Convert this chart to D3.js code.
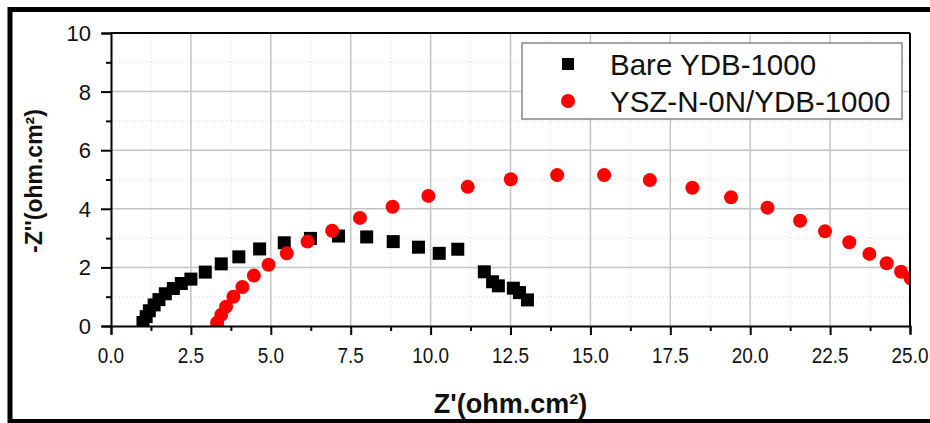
<!DOCTYPE html>
<html>
<head>
<meta charset="utf-8">
<script src="https://cdn.jsdelivr.net/npm/d3@7"></script>
<style>
  body { margin: 0; background: #fff; }
  text { font-family: "Liberation Sans", Arial, sans-serif; }
</style>
</head>
<body>
<div id="my_dataviz"></div>
<script>
// Bare YDB-1000 (black squares)
var bareX = [1.0, 1.1, 1.2, 1.35, 1.5, 1.7, 1.95, 2.2, 2.5, 2.95, 3.45, 4.0, 4.65, 5.42, 6.24, 7.12, 8.0, 8.83, 9.62, 10.27, 10.85, 11.68, 11.94, 12.12, 12.59, 12.78, 13.03];
var bareY = [0.12, 0.32, 0.52, 0.72, 0.9, 1.1, 1.28, 1.45, 1.6, 1.84, 2.12, 2.36, 2.63, 2.84, 2.99, 3.07, 3.04, 2.88, 2.69, 2.48, 2.62, 1.85, 1.51, 1.37, 1.29, 1.14, 0.89];

// YSZ-N-0N/YDB-1000 (red circles)
var yszX = [3.32, 3.45, 3.6, 3.83, 4.11, 4.47, 4.93, 5.5, 6.15, 6.92, 7.79, 8.81, 9.93, 11.16, 12.51, 13.96, 15.43, 16.86, 18.19, 19.4, 20.54, 21.56, 22.34, 23.1, 23.73, 24.27, 24.72, 25.02];
var yszY = [0.11, 0.38, 0.66, 1.0, 1.33, 1.72, 2.09, 2.48, 2.88, 3.25, 3.69, 4.07, 4.44, 4.75, 5.01, 5.15, 5.15, 4.98, 4.72, 4.39, 4.04, 3.59, 3.23, 2.86, 2.46, 2.14, 1.85, 1.63];

var seriesNames = ["Bare YDB-1000", "YSZ-N-0N/YDB-1000"];
var xTicks = [0, 2.5, 5, 7.5, 10, 12.5, 15, 17.5, 20, 22.5, 25];
var yTicks = [0, 2, 4, 6, 8, 10];

var margin = {top: 33, right: 20, bottom: 97, left: 111},
    width = 930 - margin.left - margin.right,
    height = 423 - margin.top - margin.bottom;

var root = d3.select("#my_dataviz")
  .append("svg")
    .attr("width", 930)
    .attr("height", 423);

// outer frame
root.append("rect")
  .attr("x", 10).attr("y", 9.5)
  .attr("width", 930).attr("height", 412)
  .attr("fill", "none")
  .attr("stroke", "#000")
  .attr("stroke-width", 5);

var svg = root.append("g")
  .attr("transform", "translate(" + margin.left + "," + margin.top + ")");

var x = d3.scaleLinear().domain([0, 25]).range([0, width]);
var y = d3.scaleLinear().domain([0, 10]).range([height, 0]);

var xMinor = d3.range(1.25, 25, 2.5);
var yMinor = d3.range(1, 10, 2);

// minor grid (dotted)
svg.append("g").selectAll("line.xm")
  .data(xMinor).enter().append("line")
    .attr("x1", function(d) { return x(d); }).attr("x2", function(d) { return x(d); })
    .attr("y1", 0).attr("y2", height)
    .attr("stroke", "#d8d8d8").attr("stroke-dasharray", "1,3");
svg.append("g").selectAll("line.ym")
  .data(yMinor).enter().append("line")
    .attr("y1", function(d) { return y(d); }).attr("y2", function(d) { return y(d); })
    .attr("x1", 0).attr("x2", width)
    .attr("stroke", "#d8d8d8").attr("stroke-dasharray", "1,3");

// major grid
svg.append("g").selectAll("line")
  .data(xTicks.slice(1, -1)).enter().append("line")
    .attr("x1", function(d) { return x(d); }).attr("x2", function(d) { return x(d); })
    .attr("y1", 0).attr("y2", height)
    .attr("stroke", "#c4c4c4").attr("stroke-width", 1.5);
svg.append("g").selectAll("line")
  .data(yTicks.slice(1, -1)).enter().append("line")
    .attr("y1", function(d) { return y(d); }).attr("y2", function(d) { return y(d); })
    .attr("x1", 0).attr("x2", width)
    .attr("stroke", "#c4c4c4").attr("stroke-width", 1.5);

// data, clipped to the plot area
svg.append("clipPath").attr("id", "clip")
  .append("rect").attr("width", width).attr("height", height);
var plot = svg.append("g").attr("clip-path", "url(#clip)");

var bare = bareX.map(function(d, i) { return {x: d, y: bareY[i]}; });
var ysz = yszX.map(function(d, i) { return {x: d, y: yszY[i]}; });

plot.selectAll("rect.bare")
  .data(bare).enter().append("rect")
    .attr("x", function(d) { return x(d.x) - 6.5; })
    .attr("y", function(d) { return y(d.y) - 6.5; })
    .attr("width", 13).attr("height", 13)
    .attr("fill", "#000");

plot.selectAll("circle.ysz")
  .data(ysz).enter().append("circle")
    .attr("cx", function(d) { return x(d.x); })
    .attr("cy", function(d) { return y(d.y); })
    .attr("r", 7)
    .attr("fill", "#ff0000");

// axes
var xAxis = svg.append("g")
  .attr("transform", "translate(0," + height + ")")
  .call(d3.axisBottom(x).tickValues(d3.range(0, 25.01, 1.25)).tickSize(8).tickFormat(""));
xAxis.selectAll(".tick line")
  .attr("stroke-width", 2)
  .attr("y2", function(d) { return d % 2.5 === 0 ? 9 : 5; });
xAxis.select(".domain").attr("stroke-width", 2);

svg.append("g").selectAll("text")
  .data(xTicks).enter().append("text")
    .attr("transform", function(d) { return "translate(" + x(d) + "," + (height + 37) + ") scale(0.86,1)"; })
    .attr("text-anchor", "middle")
    .attr("font-size", 22)
    .attr("fill", "#111")
    .text(function(d) { return d3.format(".1f")(d); });

var yAxis = svg.append("g")
  .call(d3.axisLeft(y).tickValues(d3.range(0, 10.01, 1)).tickSize(9).tickFormat(""));
yAxis.selectAll(".tick line")
  .attr("stroke-width", 2)
  .attr("x2", function(d) { return d % 2 === 0 ? -10 : -5; });
yAxis.select(".domain").attr("stroke-width", 2);

svg.append("g").selectAll("text")
  .data(yTicks).enter().append("text")
    .attr("x", -20)
    .attr("y", function(d) { return y(d); })
    .attr("dy", "0.36em")
    .attr("text-anchor", "end")
    .attr("font-size", 22)
    .attr("fill", "#111")
    .text(function(d) { return d; });

// top and right borders
svg.append("line").attr("x1", 0).attr("x2", width).attr("y1", 0).attr("y2", 0)
  .attr("stroke", "#000").attr("stroke-width", 2);
svg.append("line").attr("x1", width).attr("x2", width).attr("y1", 0).attr("y2", height)
  .attr("stroke", "#000").attr("stroke-width", 2);

// axis titles
svg.append("text")
  .attr("x", width / 2)
  .attr("y", height + 87)
  .attr("text-anchor", "middle")
  .attr("font-size", 27)
  .attr("font-weight", "bold")
  .attr("fill", "#111")
  .text("Z'(ohm.cm\u00b2)");

svg.append("text")
  .attr("transform", "translate(" + (33 - margin.left + 9) + "," + (181 - margin.top) + ") rotate(-90)")
  .attr("text-anchor", "middle")
  .attr("font-size", 23)
  .attr("font-weight", "bold")
  .attr("fill", "#111")
  .text("-Z''(ohm.cm\u00b2)");

// legend
var lg = svg.append("g").attr("transform", "translate(" + (522 - margin.left) + "," + (43 - margin.top) + ")");
lg.append("rect")
  .attr("width", 380).attr("height", 76)
  .attr("fill", "#fff")
  .attr("stroke", "#888").attr("stroke-width", 1.5);
lg.append("rect")
  .attr("x", 40).attr("y", 15).attr("width", 12).attr("height", 12)
  .attr("fill", "#000");
lg.append("circle")
  .attr("cx", 46).attr("cy", 58).attr("r", 7)
  .attr("fill", "#ff0000");
lg.selectAll("text.lbl")
  .data(seriesNames).enter().append("text")
    .attr("x", 88)
    .attr("y", function(d, i) { return 32 + i * 37; })
    .attr("font-size", 29.5)
    .attr("fill", "#111")
    .text(function(d) { return d; });
</script>
</body>
</html>
